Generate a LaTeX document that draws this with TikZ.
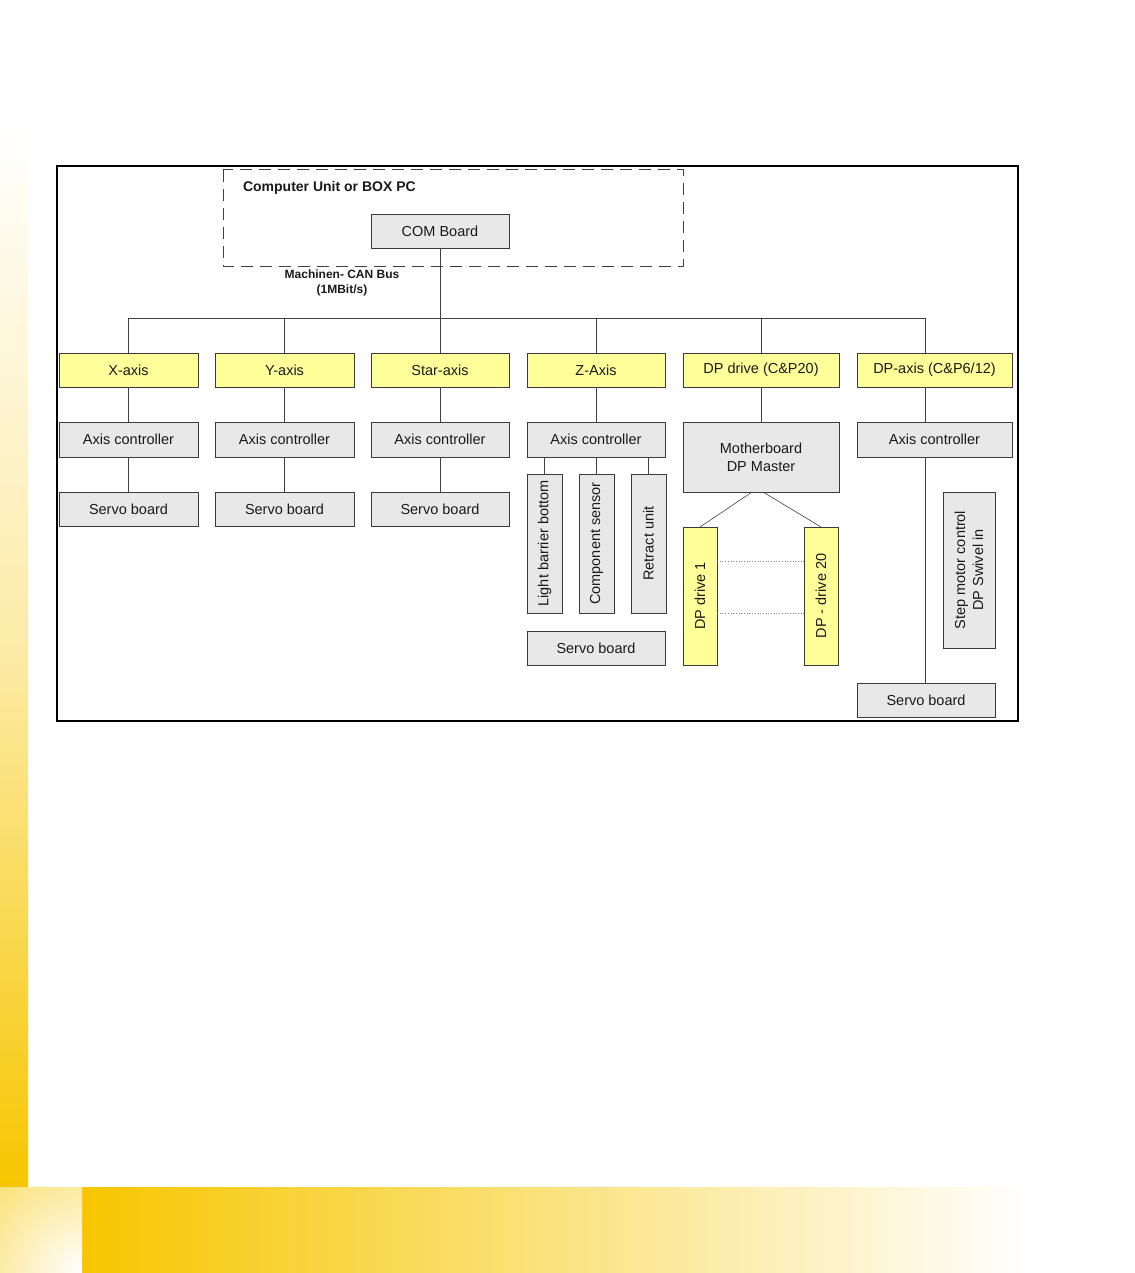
\documentclass[tikz,border=0pt]{standalone}
\usepackage{fontspec}
\setmainfont{Liberation Sans}
\usetikzlibrary{calc}
\definecolor{gold}{HTML}{F7C600}
\definecolor{boxgray}{HTML}{E8E8E8}
\definecolor{boxyellow}{HTML}{FFFF99}
\definecolor{boxline}{HTML}{3A3A3A}
\definecolor{txt}{HTML}{1A1A1A}
\definecolor{conn}{HTML}{404040}
\begin{document}
\begin{tikzpicture}[x=1pt,y=-1pt,
  box/.style={draw=boxline, line width=0.9pt, fill=boxgray, inner sep=0pt, outer sep=0pt, text=txt,
    font=\fontsize{14.5}{18}\selectfont, align=center},
  ybox/.style={box, fill=boxyellow},
  bsize/.style 2 args={minimum width=#1, minimum height=#2},
  conline/.style={draw=conn, line width=0.9pt},
  thinline/.style={draw=conn, line width=0.6pt},
  dotline/.style={draw=gray, line width=0.7pt, dotted}
]
\useasboundingbox (0,0) rectangle (1134,1273);
% decorative bars
\shade[top color=white, bottom color=gold, middle color=gold!35] (0,124) rectangle (28,1187);
\shade[left color=gold, right color=white] (82,1187) rectangle (1030,1273);
\begin{scope}
  \clip (0,1187) rectangle (82,1273);
  \shade[inner color=white, outer color=gold] (82,1273) circle (230);
\end{scope}
% frame
\draw[black, line width=1.3pt] (57,166) rectangle (1018,721);
\draw[draw=conn, line width=1pt, dash pattern=on 12pt off 7pt] (223,170) rectangle (683,266);
\node[anchor=west, text=txt, font=\bfseries\fontsize{14}{16}\selectfont] (cu) at (239.5,188) {Computer Unit or BOX PC};
\node[box, bsize={138}{34}] (com) at (440,231) {COM Board};
\node[text=txt, align=center, font=\bfseries\fontsize{12}{15}\selectfont] (can) at (342,283) {Machinen- CAN Bus\\(1MBit/s)};
% row 1
\node[ybox, bsize={139}{34}] (xaxis) at (128.5,370) {X-axis};
\node[ybox, bsize={139}{34}] (yaxis) at (284.5,370) {Y-axis};
\node[ybox, bsize={138}{34}] (star) at (440,370) {Star-axis};
\node[ybox, bsize={138}{34}] (zaxis) at (596,370) {Z-Axis};
\node[ybox, bsize={156}{34}] (dpdrive) at (761,370) {DP drive (C\&P20)};
\node[ybox, bsize={155}{34}] (dpaxis) at (934.5,370) {DP-axis (C\&P6/12)};
% row 2
\node[box, bsize={139}{35}] (xctl) at (128.5,439.5) {Axis controller};
\node[box, bsize={139}{35}] (yctl) at (284.5,439.5) {Axis controller};
\node[box, bsize={138}{35}] (sctl) at (440,439.5) {Axis controller};
\node[box, bsize={138}{35}] (zctl) at (596,439.5) {Axis controller};
\node[box, bsize={156}{70}] (mb) at (761,457) {Motherboard\\DP Master};
\node[box, bsize={155}{35}] (dctl) at (934.5,439.5) {Axis controller};
% row 3
\node[box, bsize={139}{34}] (xservo) at (128.5,509) {Servo board};
\node[box, bsize={139}{34}] (yservo) at (284.5,509) {Servo board};
\node[box, bsize={138}{34}] (sservo) at (440,509) {Servo board};
\node[box, bsize={139}{35}, rotate=90] (lb) at (544.5,543.5) {Light barrier bottom};
\node[box, bsize={139}{35}, rotate=90] (cs) at (596.5,543.5) {Component sensor};
\node[box, bsize={139}{35}, rotate=90] (ru) at (648.5,543.5) {Retract unit};
\node[box, bsize={138}{34}] (zservo) at (596,648) {Servo board};
\node[ybox, bsize={138}{34}, rotate=90] (dp1) at (700,596) {DP drive 1};
\node[ybox, bsize={138}{34}, rotate=90] (dp20) at (821,596) {DP - drive 20};
\node[box, bsize={156}{52}, rotate=90] (step) at (969,570) {Step motor control\\DP Swivel in};
\node[box, bsize={138}{34}] (dservo) at (926,700) {Servo board};
% bus
\coordinate (busL) at (128.5,318);
\coordinate (busR) at (925,318);
\draw[conline] (busL) -- (busR);
\draw[conline] (com.south) -- (com.south |- busL);
\foreach \n in {xaxis,yaxis,star,zaxis,dpdrive}{
  \draw[conline] (\n.north) -- (\n.north |- busL);
}
\draw[conline] (busR) -- (busR |- dpaxis.north);
% column links
\draw[conline] (xaxis.south) -- (xctl.north);
\draw[conline] (xctl.south) -- (xservo.north);
\draw[conline] (yaxis.south) -- (yctl.north);
\draw[conline] (yctl.south) -- (yservo.north);
\draw[conline] (star.south) -- (sctl.north);
\draw[conline] (sctl.south) -- (sservo.north);
\draw[conline] (zaxis.south) -- (zctl.north);
\draw[conline] (lb.east) -- (lb.east |- zctl.south);
\draw[conline] (cs.east) -- (cs.east |- zctl.south);
\draw[conline] (ru.east) -- (ru.east |- zctl.south);
\draw[conline] (dpdrive.south) -- (mb.north);
\draw[thinline] ([xshift=-9pt]mb.south) -- ([yshift=0pt]dp1.east);
\draw[thinline] ([xshift=2pt]mb.south) -- ([yshift=0pt]dp20.east);
\draw[dotline] (dp1.south |- 0,561) -- (dp20.north |- 0,561);
\draw[dotline] (dp1.south |- 0,613) -- (dp20.north |- 0,613);
\draw[thinline] (busR |- dpaxis.south) -- (busR |- dctl.north);
\draw[thinline] (busR |- dctl.south) -- (busR |- dservo.north);
\end{tikzpicture}
\end{document}
